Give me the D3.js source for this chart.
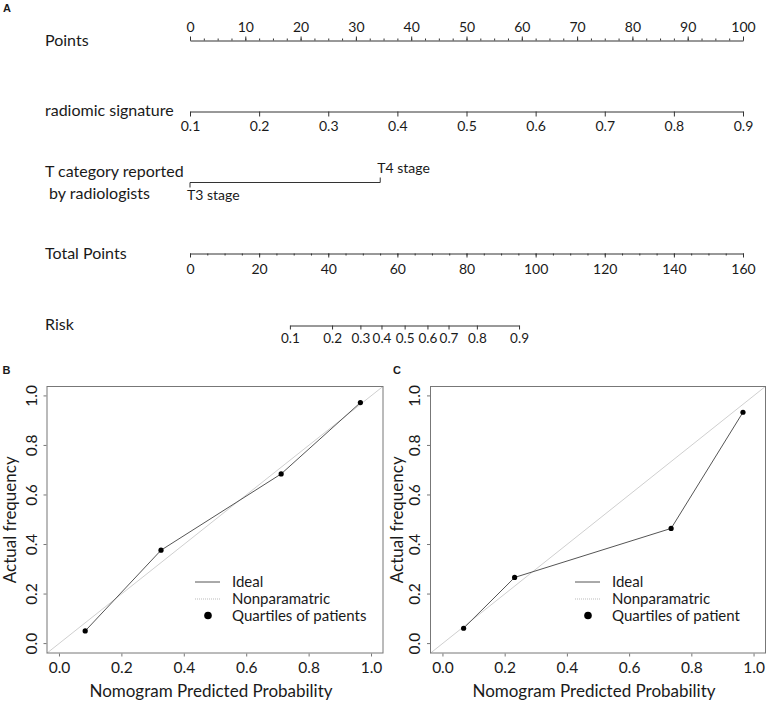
<!DOCTYPE html>
<html>
<head>
<meta charset="utf-8">
<script src="https://cdn.jsdelivr.net/npm/d3@7"></script>
<style>
  html, body { margin: 0; padding: 0; background: #fff; }
  svg { display: block; font-family: Lato, "Open Sans", sans-serif; }
  text { fill: #1a1a1a; }
</style>
</head>
<body>
<svg id="chart" width="783" height="724"></svg>
<script>
// ---------- Nomogram data ----------
const pointsTicks = [0, 10, 20, 30, 40, 50, 60, 70, 80, 90, 100];
const pointsMinor = d3.range(0, 100.01, 2.5);
const radiomicTicks = [0.1, 0.2, 0.3, 0.4, 0.5, 0.6, 0.7, 0.8, 0.9];
const radiomicPointsRange = [0, 100];
const tCategories = ["T3 stage", "T4 stage"];
const tPoints = [0, 34.4];
const totalTicks = [0, 20, 40, 60, 80, 100, 120, 140, 160];
const totalMinor = d3.range(0, 160.01, 5);
const riskTicks = [0.1, 0.2, 0.3, 0.4, 0.5, 0.6, 0.7, 0.8, 0.9];
const riskTotalPoints = [28.9, 41.1, 49.3, 55.4, 62.1, 68.7, 74.8, 83.0, 95.2];
const rowLabels = ["Points", "radiomic signature", "T category reported", " by radiologists", "Total Points", "Risk"];

// ---------- Calibration data ----------
const calTicks = [0.0, 0.2, 0.4, 0.6, 0.8, 1.0];
const predB = [0.084, 0.327, 0.712, 0.966];
const obsB = [0.051, 0.377, 0.685, 0.973];
const predC = [0.068, 0.232, 0.735, 0.966];
const obsC = [0.062, 0.267, 0.465, 0.934];
const legendB = ["Ideal", "Nonparamatric", "Quartiles of patients"];
const legendC = ["Ideal", "Nonparamatric", "Quartiles of patient"];

const svg = d3.select("#chart");
const ink = "#333";

// ---------- Panel A : nomogram ----------
const x0 = 190, x1 = 743;
const ptsScale = d3.scaleLinear().domain([0, 100]).range([x0, x1]);
const totScale = d3.scaleLinear().domain([0, 160]).range([x0, x1]);
const radScale = d3.scaleLinear().domain([0.1, 0.9]).range(radiomicPointsRange.map(ptsScale));
const riskScale = d3.scaleLinear().domain(riskTicks).range(riskTotalPoints.map(totScale));

svg.append("text").attr("x", 3).attr("y", 12).attr("font-family", "Liberation Sans, Arial, sans-serif")
  .attr("font-weight", "bold").attr("font-size", 11).text("A");

function styleAxis(g, fs) {
  g.select(".domain").attr("stroke", ink).attr("stroke-width", 1);
  g.selectAll(".tick line").attr("stroke", ink);
  g.selectAll(".tick text").attr("font-size", fs).attr("font-family", "Lato, sans-serif").attr("fill", "#1a1a1a");
}

// Points
const gP = svg.append("g").attr("transform", "translate(0,40.5)");
gP.append("g").call(d3.axisTop(ptsScale).tickValues(pointsMinor).tickSize(2).tickSizeOuter(0).tickFormat(""))
  .call(g => styleAxis(g, 14));
gP.append("g").call(d3.axisTop(ptsScale).tickValues(pointsTicks).tickSize(4).tickSizeOuter(0).tickPadding(5).tickFormat(d3.format("d")))
  .call(g => { styleAxis(g, 14); g.select(".domain").remove(); });

// radiomic signature
const gR = svg.append("g").attr("transform", "translate(0,111.5)");
gR.append("g").call(d3.axisBottom(radScale).tickValues(radiomicTicks).tickSize(5).tickSizeOuter(0).tickPadding(5).tickFormat(d3.format(".1f")))
  .call(g => styleAxis(g, 14));

// T category
const tY = 182.5;
const gT = svg.append("g");
gT.append("line").attr("x1", ptsScale(tPoints[0])).attr("x2", ptsScale(tPoints[1]))
  .attr("y1", tY).attr("y2", tY).attr("stroke", ink);
gT.selectAll("line.tk").data(tPoints).join("line").attr("class", "tk")
  .attr("x1", d => ptsScale(d)).attr("x2", d => ptsScale(d))
  .attr("y1", tY).attr("y2", (d, i) => i === 0 ? tY + 5 : tY - 5).attr("stroke", ink);
gT.selectAll("text").data(tCategories).join("text")
  .attr("x", (d, i) => ptsScale(tPoints[i]) - 3)
  .attr("y", (d, i) => i === 0 ? 200 : 173)
  .attr("font-size", 14).text(d => d);

// Total Points
const gTot = svg.append("g").attr("transform", "translate(0,253.5)");
gTot.append("g").call(d3.axisBottom(totScale).tickValues(totalMinor).tickSize(2).tickSizeOuter(0).tickFormat(""))
  .call(g => styleAxis(g, 14));
gTot.append("g").call(d3.axisBottom(totScale).tickValues(totalTicks).tickSize(4).tickSizeOuter(0).tickPadding(7).tickFormat(d3.format("d")))
  .call(g => { styleAxis(g, 14); g.select(".domain").remove(); });

// Risk
const gRisk = svg.append("g").attr("transform", "translate(0,325.5)");
gRisk.append("g").call(d3.axisBottom(riskScale).tickValues(riskTicks).tickSize(4).tickSizeOuter(0).tickPadding(4).tickFormat(d3.format(".1f")))
  .call(g => styleAxis(g, 13.5));

// Row labels
const rowY = [46, 116, 177, 199, 259, 330];
const rowX = [45, 45, 45, 45, 45, 45];
svg.selectAll("text.row").data(rowLabels).join("text").attr("class", "row")
  .attr("x", (d, i) => rowX[i]).attr("y", (d, i) => rowY[i])
  .attr("font-size", 16).attr("xml:space", "preserve").style("white-space", "pre").text(d => d);

// ---------- Calibration panels ----------
function calPanel(opts) {
  const { left, right, letter, letterX, pred, obs, legend, tickLabelX, yLabelX } = opts;
  const top = 386, bottom = 653.5;
  const xs = d3.scaleLinear().domain([-0.04, 1.04]).range([left, right]);
  const ys = d3.scaleLinear().domain([-0.04, 1.04]).range([bottom, top]);
  const g = svg.append("g");

  g.append("text").attr("x", letterX).attr("y", 374).attr("font-family", "Liberation Sans, Arial, sans-serif")
    .attr("font-weight", "bold").attr("font-size", 11).text(letter);

  const clipId = "clip" + letter;
  g.append("clipPath").attr("id", clipId).append("rect")
    .attr("x", left).attr("y", top).attr("width", right - left).attr("height", bottom - top);

  // ideal diagonal (light grey)
  g.append("line").attr("clip-path", `url(#${clipId})`)
    .attr("x1", xs(-0.04)).attr("y1", ys(-0.04)).attr("x2", xs(1.04)).attr("y2", ys(1.04))
    .attr("stroke", "#cfcfcf").attr("stroke-width", 1);

  // calibration line
  const pts = pred.map((p, i) => [p, obs[i]]);
  g.append("path").datum(pts)
    .attr("d", d3.line().x(d => xs(d[0])).y(d => ys(d[1])))
    .attr("fill", "none").attr("stroke", "#555").attr("stroke-width", 1);
  g.selectAll("circle.pt").data(pts).join("circle").attr("class", "pt")
    .attr("cx", d => xs(d[0])).attr("cy", d => ys(d[1])).attr("r", 2.6).attr("fill", "#000");

  // box
  g.append("rect").attr("x", left + 0.5).attr("y", top + 0.5)
    .attr("width", right - left - 1).attr("height", bottom - top - 1)
    .attr("fill", "none").attr("stroke", "#777").attr("stroke-width", 1);

  // x axis
  const gx = g.append("g").attr("transform", `translate(0,${bottom})`)
    .call(d3.axisBottom(xs).tickValues(calTicks).tickSize(3).tickSizeOuter(0).tickPadding(5).tickFormat(d3.format(".1f")));
  gx.select(".domain").remove();
  gx.selectAll(".tick line").attr("stroke", "#777");
  gx.selectAll(".tick text").attr("font-size", 15.5).attr("font-family", "Lato, sans-serif").attr("fill", "#1a1a1a");

  // y axis (rotated labels)
  const gy = g.append("g");
  gy.selectAll("line").data(calTicks).join("line")
    .attr("x1", left).attr("x2", left - 3).attr("y1", d => ys(d)).attr("y2", d => ys(d)).attr("stroke", "#777");
  gy.selectAll("text").data(calTicks).join("text")
    .attr("transform", d => `translate(${tickLabelX},${ys(d)}) rotate(-90)`)
    .attr("text-anchor", "middle").attr("dy", "0.35em").attr("font-size", 15.5)
    .text(d => d3.format(".1f")(d));

  g.append("text").attr("transform", `translate(${yLabelX},${(top + bottom) / 2}) rotate(-90)`)
    .attr("text-anchor", "middle").attr("dy", "0.35em").attr("font-size", 17).text("Actual frequency");
  g.append("text").attr("x", (left + right) / 2 - 4).attr("y", 697)
    .attr("text-anchor", "middle").attr("font-size", 17).text("Nomogram Predicted Probability");

  // legend
  const lx = opts.legX, ly = 582;
  g.append("line").attr("x1", lx).attr("x2", lx + 25).attr("y1", ly).attr("y2", ly).attr("stroke", "#555");
  g.append("line").attr("x1", lx).attr("x2", lx + 25).attr("y1", ly + 17).attr("y2", ly + 17)
    .attr("stroke", "#bbb").attr("stroke-dasharray", "1,1");
  g.append("circle").attr("cx", lx + 13).attr("cy", ly + 33.5).attr("r", 3.8).attr("fill", "#000");
  g.selectAll("text.leg").data(legend).join("text").attr("class", "leg")
    .attr("x", lx + 37).attr("y", (d, i) => ly + i * 16.8).attr("dy", "0.35em").attr("font-size", 15).text(d => d);
}

calPanel({ left: 46.5, right: 383.5, letter: "B", letterX: 2.5, pred: predB, obs: obsB, legend: legendB,
  tickLabelX: 31.5, yLabelX: 10, legX: 195 });
calPanel({ left: 430, right: 766, letter: "C", letterX: 393, pred: predC, obs: obsC, legend: legendC,
  tickLabelX: 415, yLabelX: 397, legX: 575 });
</script>
</body>
</html>
